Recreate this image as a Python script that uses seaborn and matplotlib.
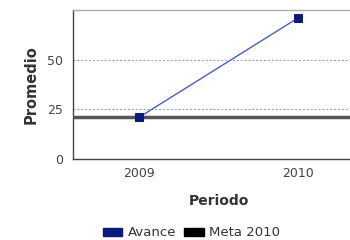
import pandas as pd
import seaborn as sns
import matplotlib.pyplot as plt
from matplotlib.patches import Patch

# Data
periodos = ['2009', '2010']
avance = [21, 71]
meta_2010 = 21
y_ticks = [0, 25, 50]

df = pd.DataFrame({'Periodo': periodos, 'Promedio': avance})

sns.set_style('white')
plt.rcParams['font.family'] = ['DejaVu Sans']

fig = plt.figure(figsize=(3.5, 2.4), dpi=100)
ax = fig.add_axes([0.209, 0.3375, 0.831, 0.621])

ax.yaxis.grid(True, ls=(0, (2, 2)), color='#999999', linewidth=0.7)
ax.set_axisbelow(True)

sns.lineplot(x='Periodo', y='Promedio', data=df, ax=ax, color='#4a5cbf',
             linewidth=1, marker='s', markersize=6, markerfacecolor='#0c1a7e',
             markeredgecolor='#0c1a7e', zorder=4)

ax.axhline(meta_2010, color='#555555', linewidth=2.5, zorder=3)

ax.set_xlim(-0.415, 1.415)
ax.set_ylim(0, 75)
ax.set_yticks(y_ticks)
ax.tick_params(axis='both', labelsize=9, colors='#555555', length=4, width=0.8)
ax.tick_params(axis='x', length=0, pad=6)
for lbl in ax.get_xticklabels() + ax.get_yticklabels():
    lbl.set_color('#444444')

for side in ['left', 'bottom']:
    ax.spines[side].set_color('#444444')
    ax.spines[side].set_linewidth(1)
ax.spines['top'].set_color('#aaaaaa')
ax.spines['top'].set_linewidth(1)
ax.spines['right'].set_visible(False)

ax.set_xlabel('Periodo', fontsize=10, fontweight='bold', color='#333333', labelpad=10)
ax.set_ylabel('Promedio', fontsize=10.5, fontweight='bold', color='#333333', labelpad=6)

handles = [Patch(color='#0c1a7e'), Patch(color='#000000')]
fig.legend(handles, ['Avance', 'Meta 2010'], loc='center', bbox_to_anchor=(0.547, 0.03),
           ncol=2, frameon=False, fontsize=9.5, handletextpad=0.4, columnspacing=0.6,
           handlelength=1.5, handleheight=0.55, labelcolor='#333333')

plt.savefig('out.png', dpi=100)
